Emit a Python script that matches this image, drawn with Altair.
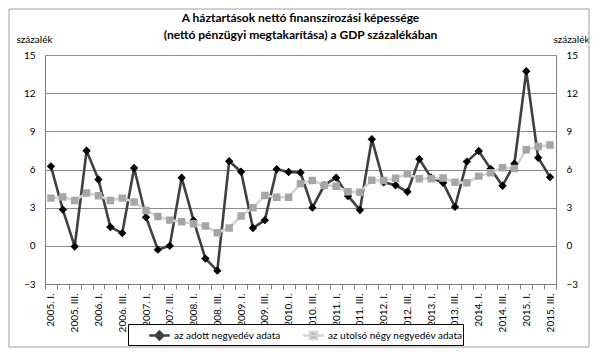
import json
import altair as alt
import pandas as pd

FONT = "Lato"

YEARS = list(range(2005, 2016))
QUARTER_NAMES = ["I.", "II.", "III.", "IV."]
PERIODS = [f"{y}. {q}" for y in YEARS for q in QUARTER_NAMES][:43]

SERIES = ["az adott negyedév adata", "az utolsó négy negyedév adata"]

QUARTERLY = [
    6.25, 2.85, -0.05, 7.47, 5.21, 1.48, 1.0, 6.12,
    2.25, -0.3, 0.0, 5.35, 2.0, -1.0, -1.95, 6.65,
    5.82, 1.4, 2.02, 6.02, 5.8, 5.76, 3.0, 4.76,
    5.36, 3.92, 2.82, 8.38, 5.0, 4.76, 4.25, 6.82,
    5.35, 4.95, 3.06, 6.62, 7.45, 6.05, 4.72, 6.45,
    13.72, 6.92, 5.4,
]
ROLLING = [
    3.75, 3.84, 3.57, 4.15, 3.93, 3.57, 3.75, 3.45,
    2.78, 2.3, 2.02, 1.9, 1.74, 1.55, 1.03, 1.4,
    2.34, 3.0, 3.95, 3.82, 3.82, 4.89, 5.13, 4.76,
    4.68, 4.26, 4.21, 5.16, 5.13, 5.32, 5.66, 5.27,
    5.27, 5.34, 5.0, 4.95, 5.48, 5.74, 6.13, 6.08,
    7.55, 7.8, 7.92,
]
Y_TICKS = [-3, 0, 3, 6, 9, 12, 15]
TICK_LABELS = PERIODS[::2]

LINE_COLORS = ["#404040", "#d4d4d4"]
MARKER_COLORS = ["#000000", "#a6a6a6"]
# marker paths include a short horizontal line that is only stroked in the legend
MARKER_SHAPES = [
    "M-1,0H1M0,-0.38L0.38,0L0,0.38L-0.38,0Z",
    "M-1,0H1M-0.34,-0.34H0.34V0.34H-0.34Z",
]

rows = []
for i, p in enumerate(PERIODS):
    rows.append({"idx": i, "period": p, "series": SERIES[0], "value": QUARTERLY[i]})
for i, p in enumerate(PERIODS):
    rows.append({"idx": i, "period": p, "series": SERIES[1], "value": ROLLING[i]})
df = pd.DataFrame(rows)

n = len(PERIODS)
x_scale = alt.Scale(domain=[-0.5, n - 0.5], nice=False, zero=False)
y_scale = alt.Scale(domain=[Y_TICKS[0], Y_TICKS[-1]], nice=False, zero=False)

label_js = json.dumps(TICK_LABELS, ensure_ascii=False)
x_axis = alt.Axis(
    values=[k / 2 - 0.5 for k in range(0, 2 * n + 1)],
    labelExpr=f"datum.value % 2 === 0 ? {label_js}[datum.value / 2] : ''",
    labelAngle=270,
    labelAlign="right",
    labelBaseline="middle",
    labelFont=FONT,
    labelFontSize=10,
    labelColor="#000000",
    labelPadding=4,
    labelOverlap=False,
    labelFlush=False,
    tickOpacity={"condition": {"test": "datum.value % 1 !== 0", "value": 1}, "value": 0},
    tickSize=5,
    tickColor="#808080",
    domainColor="#808080",
    grid=False,
    title=None,
)

x_enc = alt.X("idx:Q", scale=x_scale, axis=x_axis)

left_axis = alt.Axis(
    values=Y_TICKS,
    grid=True,
    gridColor="#8c8c8c",
    ticks=False,
    domain=False,
    labelFont=FONT,
    labelFontSize=10,
    labelColor="#000000",
    labelPadding=10,
    title="százalék",
    titleAngle=0,
    titleAlign="center",
    titleBaseline="alphabetic",
    titleX=-11,
    titleY=-13,
    titleFont=FONT,
    titleFontSize=10,
    titleFontWeight="normal",
    titleColor="#000000",
)
right_axis = alt.Axis(
    values=Y_TICKS,
    orient="right",
    grid=False,
    ticks=False,
    domain=False,
    labelFont=FONT,
    labelFontSize=10,
    labelColor="#000000",
    labelPadding=10,
    title="százalék",
    titleAngle=0,
    titleAlign="center",
    titleBaseline="alphabetic",
    titleX=15,
    titleY=-13,
    titleFont=FONT,
    titleFontSize=10,
    titleFontWeight="normal",
    titleColor="#000000",
)

legend = alt.Legend(
    orient="none",
    legendX=83,
    legendY=269,
    direction="horizontal",
    title=None,
    strokeColor="#000000",
    fillColor="#ffffff",
    padding=0,
    symbolSize=420,
    symbolStrokeWidth=2.5,
    symbolOffset=20,
    labelOffset=3,
    columnPadding=1,
    labelFont=FONT,
    labelFontSize=10,
    labelColor="#000000",
)

frame = alt.Chart(alt.Data(values=[{}])).mark_rect(
    fillOpacity=0, stroke="#a0a0a0", strokeWidth=1
).encode(
    x=alt.value(-36), x2=alt.value(544), y=alt.value(-46), y2=alt.value(292)
)

lines = alt.Chart(df).mark_line(strokeWidth=2.6).encode(
    x=x_enc,
    y=alt.Y("value:Q", scale=y_scale, axis=left_axis),
    color=alt.Color("series:N", scale=alt.Scale(domain=SERIES, range=LINE_COLORS), legend=legend),
    detail="series:N",
    order="idx:Q",
)

points = alt.Chart(df).mark_point(filled=True, size=484, opacity=1).encode(
    x=x_enc,
    y=alt.Y("value:Q", scale=y_scale, axis=right_axis),
    fill=alt.Fill("series:N", scale=alt.Scale(domain=SERIES, range=MARKER_COLORS), legend=legend),
    shape=alt.Shape("series:N", scale=alt.Scale(domain=SERIES, range=MARKER_SHAPES), legend=legend),
)

chart = alt.layer(frame, lines, points).resolve_scale(
    y="independent"
).properties(
    width=511,
    height=229,
    autosize=alt.AutoSizeParams(type="none"),
    padding={"left": 37, "top": 47, "right": 35, "bottom": 64},
    title=alt.TitleParams(
        text=["A háztartások nettó finanszírozási képessége",
              "(nettó pénzügyi megtakarítása) a GDP százalékában"],
        font=FONT,
        fontSize=12,
        fontWeight="bold",
        color="#000000",
        anchor="middle",
        frame="group",
        lineHeight=17,
        offset=-33,
    ),
).configure_view(
    stroke="#808080", strokeWidth=1
).configure_legend(
    gridAlign="none"
)

chart.save("out.html", embed_options={"renderer": "svg", "actions": False})
